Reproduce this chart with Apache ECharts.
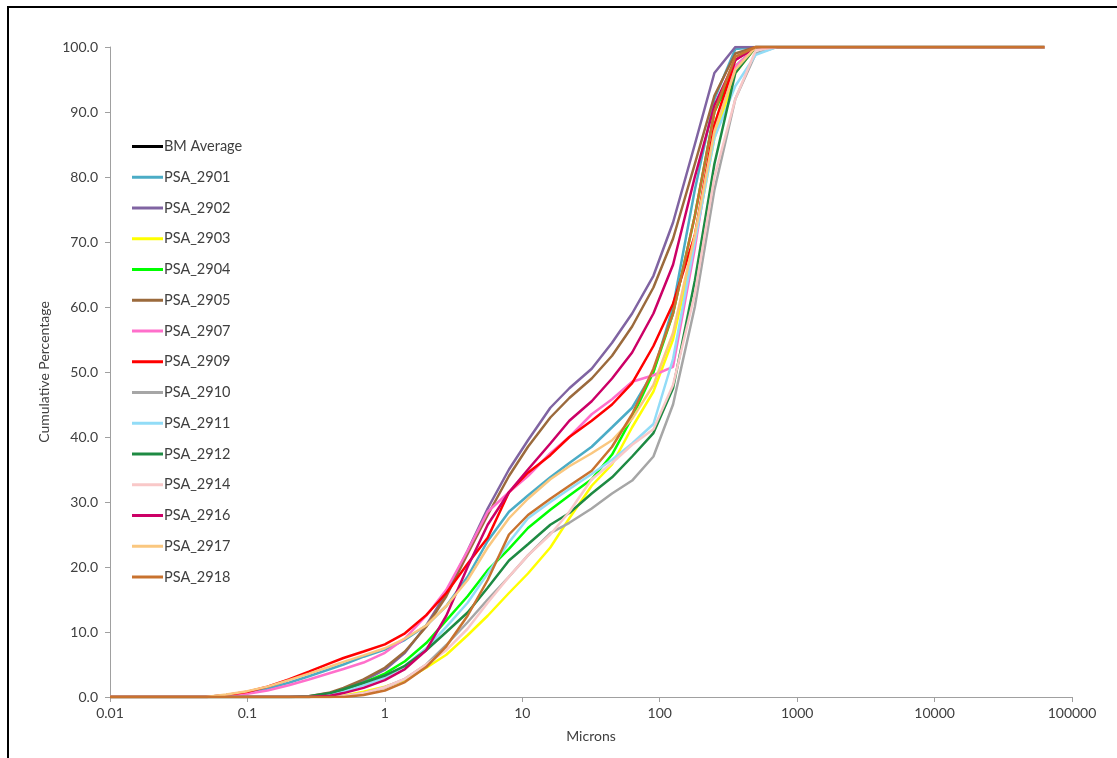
<!DOCTYPE html>
<html>
<head>
<meta charset="utf-8">
<title>Cumulative Percentage</title>
<script src="https://cdn.jsdelivr.net/npm/echarts@6/dist/echarts.min.js"></script>
<style>
html,body{margin:0;padding:0;background:#fff;}
#main{width:1117px;height:758px;}
</style>
</head>
<body>
<div id="main"></div>
<script>
/*粒径(微米)*/
var microns = [0.01,0.05,0.07,0.1,0.14,0.2,0.28,0.4,0.5,0.7,1,1.4,2,2.8,4,5.6,8,11,16,22,32,45,63,90,125,180,250,355,500,710,1000,63000];
/*X轴刻度*/
var xTicks = [0.01,0.1,1,10,100,1000,10000,100000];
/*各样品累计百分比*/
var bmAverage = [];
var psa2901 = [0,0,0.3,0.7,1.3,2.2,3.2,4.3,5.0,6.2,7.3,8.8,11.0,14.0,18.5,24,28.5,31,33.8,36,38.5,41.5,44.5,50,60,78,92,99.7,100,100,100,100];
var psa2902 = [0,0,0,0,0,0,0,0.5,1.2,2.5,4.2,6.8,11,16,22.5,29,35,39.5,44.5,47.5,50.5,54.5,59,64.8,73,85,96,100,100,100,100,100];
var psa2903 = [0,0,0,0,0,0,0,0,0.2,0.8,1.6,2.6,4.5,6.5,9.5,12.5,16,19,23,27.5,32.5,35.8,41.5,47,55,70,86,96,100,100,100,100];
var psa2904 = [0,0,0,0,0,0,0,0.4,1.0,2.2,3.6,5.5,8.3,11.8,15.5,19.5,22.8,26,28.8,31,33.5,37.3,43,50,59,74,90,97,100,100,100,100];
var psa2905 = [0,0,0,0,0,0,0.1,0.7,1.4,2.7,4.5,7.0,10.8,15.5,22,28,34,38.5,43,46,49,52.5,57,63,70.5,82,92.5,99,100,100,100,100];
var psa2907 = [0,0,0.2,0.5,1.0,1.8,2.7,3.7,4.3,5.3,6.8,9.0,12.5,16.5,22.5,28.5,31.5,34,37.5,40,43.5,45.8,48.5,49.5,50.8,69,88,97,100,100,100,100];
var psa2909 = [0,0,0.3,0.8,1.6,2.7,3.9,5.2,6.0,7.0,8.1,9.8,12.6,16.0,20.5,24.5,31.5,34.5,37.2,40,42.5,45,48.3,54,60.5,71,88,98,100,100,100,100];
var psa2910 = [0,0,0,0,0,0,0,0,0.1,0.6,1.5,2.8,5,8,11.5,15,18.5,21.8,25.2,26.8,29,31.3,33.3,37,45,60,78,92,99,100,100,100];
var psa2911 = [0,0,0,0,0,0,0,0.3,0.8,1.8,3.0,4.8,7.5,10.8,14.5,19,23.8,27.5,30,32,34.3,36.5,39,42,52,70,86,94,98.8,100,100,100];
var psa2912 = [0,0,0,0,0,0,0.1,0.6,1.2,2.2,3.3,4.8,7.2,10,13,16.8,21,23.5,26.5,28.3,31.3,33.8,37,40.6,47.5,64,82,96,100,100,100,100];
var psa2914 = [0,0,0,0,0,0,0,0,0.1,0.6,1.5,2.8,5,7.2,10.5,14.5,18.5,21.8,25,28.5,33.5,36,38.8,41.2,48,62,80,92,99.5,100,100,100];
var psa2916 = [0,0,0,0,0,0,0,0.2,0.6,1.4,2.6,4.3,7.2,12.5,20,26.5,31.5,35,39,42.5,45.5,49,53,59,66.5,80,91,98,100,100,100,100];
var psa2917 = [0,0,0.4,0.9,1.6,2.6,3.6,4.7,5.4,6.4,7.5,9.0,11.0,14.0,18.0,23.0,27.5,30.5,33.5,35.5,37.5,39.5,42.8,48,56,71,87,96.5,100,100,100,100];
var psa2918 = [0,0,0,0,0,0,0,0,0,0.3,1.0,2.3,4.6,7.8,12.5,18,25,28,30.5,32.5,34.8,38.5,43.5,50.5,59,74,90,98.5,100,100,100,100];

/*系列名称、数据与颜色*/
var seriesNames = ["BM Average","PSA_2901","PSA_2902","PSA_2903","PSA_2904","PSA_2905","PSA_2907","PSA_2909","PSA_2910","PSA_2911","PSA_2912","PSA_2914","PSA_2916","PSA_2917","PSA_2918"];
var seriesData = [bmAverage,psa2901,psa2902,psa2903,psa2904,psa2905,psa2907,psa2909,psa2910,psa2911,psa2912,psa2914,psa2916,psa2917,psa2918];
var seriesColors = ["#000000","#4BACC6","#8064A2","#FFFF00","#00FF00","#9B6A3C","#FF6FCB","#FF0000","#A6A6A6","#92DCF7","#1E8A43","#F9C8C8","#CC0066","#FAC77F","#C8722F"];

var fontName = "Lato, 'Open Sans', sans-serif";
var textColor = "#404040";

/*构造折线系列*/
function buildSeries(){
	var list = [];
	for (var i = 0; i < seriesNames.length; i++) {
		var pts = [];
		for (var j = 0; j < seriesData[i].length; j++) {
			pts.push([microns[j], seriesData[i][j]]);
		}
		list.push({
			name : seriesNames[i],
			type : 'line',
			data : pts,
			symbol : 'none',
			color : seriesColors[i],
			lineStyle : { width : 2.5, color : seriesColors[i] },
			animation : false
		});
	}
	return list;
}

/*X轴标签格式*/
function fmtMicron(v){
	var e = Math.round(Math.log(v) / Math.LN10);
	if (e < 0) {
		return Math.pow(10, e).toFixed(-e);
	}
	return String(Math.round(Math.pow(10, e)));
}

var chart = echarts.init(document.getElementById('main'), null, {renderer:'canvas'});
var option = {
	backgroundColor : '#ffffff',
	animation : false,
	textStyle : { fontFamily : fontName },
	grid : { left : 110, right : 45, top : 47, bottom : 61, containLabel : false },
	legend : {
		orient : 'vertical',
		left : 127,
		top : 134,
		icon : 'rect',
		itemWidth : 31,
		itemHeight : 3,
		itemGap : 15.75,
		data : seriesNames,
		textStyle : { fontFamily : fontName, fontSize : 14.5, color : textColor, padding : [0,0,0,-4] }
	},
	xAxis : {
		type : 'log',
		logBase : 10,
		min : xTicks[0],
		max : xTicks[xTicks.length - 1],
		name : 'Microns',
		nameLocation : 'middle',
		nameGap : 32,
		nameTextStyle : { fontFamily : fontName, fontSize : 14, color : textColor },
		axisLine : { lineStyle : { color : '#A0A0A0', width : 1 } },
		axisTick : { show : true, length : 5, inside : false, lineStyle : { color : '#A0A0A0' } },
		minorTick : { show : false },
		splitLine : { show : false },
		axisLabel : { fontFamily : fontName, fontSize : 14, color : textColor, margin : 9, formatter : fmtMicron }
	},
	yAxis : {
		type : 'value',
		min : 0,
		max : 100,
		interval : 10,
		name : 'Cumulative Percentage',
		nameLocation : 'middle',
		nameGap : 57,
		nameTextStyle : { fontFamily : fontName, fontSize : 14, color : textColor },
		axisLine : { show : true, lineStyle : { color : '#A0A0A0', width : 1 } },
		axisTick : { show : true, length : 5, inside : false, lineStyle : { color : '#A0A0A0' } },
		splitLine : { show : false },
		axisLabel : { fontFamily : fontName, fontSize : 14, color : textColor, margin : 12, formatter : function(v){ return v.toFixed(1); } }
	},
	/*外框*/
	graphic : [{
		type : 'rect',
		shape : { x : 8, y : 7, width : 1300, height : 900 },
		style : { fill : 'none', stroke : '#000000', lineWidth : 2 },
		silent : true,
		z : 100
	}],
	series : buildSeries()
};
chart.setOption(option, true);
</script>
</body>
</html>
